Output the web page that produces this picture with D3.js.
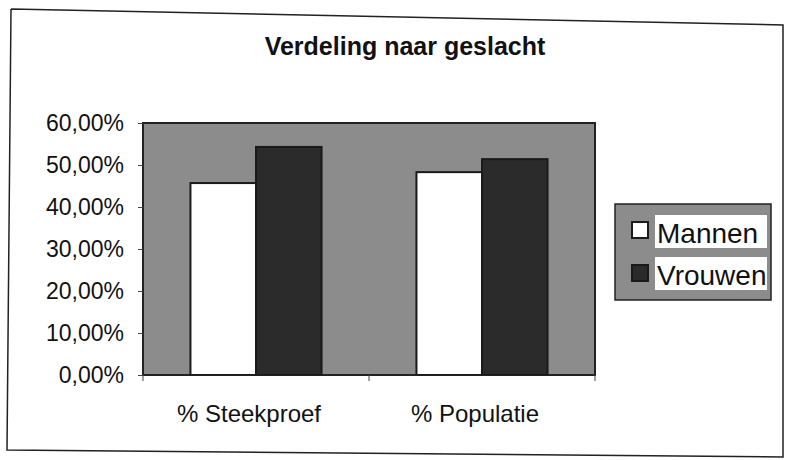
<!DOCTYPE html>
<html>
<head>
<meta charset="utf-8">
<script src="https://cdn.jsdelivr.net/npm/d3@7"></script>
<style>
  html, body { margin: 0; padding: 0; background: #fff; }
  svg { display: block; font-family: "Liberation Sans", Arial, sans-serif; }
</style>
</head>
<body>
<svg id="chart" width="785" height="460"></svg>
<script>
const title = "Verdeling naar geslacht";
const categories = ["% Steekproef", "% Populatie"];
const seriesNames = ["Mannen", "Vrouwen"];
const mannen = [45.7, 48.3];
const vrouwen = [54.3, 51.4];
const yTicks = [0, 10, 20, 30, 40, 50, 60];

const seriesValues = [mannen, vrouwen];
const seriesFill = ["#ffffff", "#2b2b2b"];

const svg = d3.select("#chart");
const plot = { left: 143, top: 123, right: 595, bottom: 375 };

// outer frame (slightly skewed like the scan)
svg.append("path")
  .attr("d", d3.line()([[11, 9], [783, 25], [783, 457], [7, 450], [11, 9]]))
  .attr("fill", "none").attr("stroke", "#222").attr("stroke-width", 1.5);

// title
svg.append("text")
  .attr("x", 405).attr("y", 55)
  .attr("text-anchor", "middle")
  .attr("font-size", 25).attr("font-weight", "bold")
  .attr("fill", "#111")
  .text(title);

const x0 = d3.scaleBand().domain(categories)
  .range([plot.left, plot.right]).paddingInner(0.42).paddingOuter(0.21);
const x1 = d3.scaleBand().domain(seriesNames).range([0, x0.bandwidth()]).padding(0);
const y = d3.scaleLinear().domain([0, 60]).range([plot.bottom, plot.top]);

// plot area background
svg.append("rect")
  .attr("x", plot.left).attr("y", plot.top)
  .attr("width", plot.right - plot.left).attr("height", plot.bottom - plot.top)
  .attr("fill", "#8c8c8c").attr("stroke", "#222").attr("stroke-width", 2);

// bars
const rows = [];
categories.forEach((c, i) => seriesNames.forEach((s, j) => rows.push({ c, s, v: seriesValues[j][i], j })));
svg.append("g").selectAll("rect").data(rows).join("rect")
  .attr("x", d => x0(d.c) + x1(d.s))
  .attr("y", d => y(d.v))
  .attr("width", x1.bandwidth())
  .attr("height", d => y(0) - y(d.v))
  .attr("fill", d => seriesFill[d.j])
  .attr("stroke", "#1a1a1a").attr("stroke-width", 2);

// y axis
const yAxis = d3.axisLeft(y).tickValues(yTicks).tickSize(5).tickPadding(14)
  .tickFormat(d => d3.format(".2f")(d).replace(".", ",") + "%");
const gy = svg.append("g").attr("transform", `translate(${plot.left},0)`).call(yAxis);
gy.select(".domain").attr("stroke", "#222");
gy.selectAll("line").attr("stroke", "#444");
gy.selectAll("text").attr("font-size", 23).attr("fill", "#111")
  .attr("font-family", "Liberation Sans, Arial, sans-serif");

// x axis
const xAxis = d3.axisBottom(x0).tickSize(0).tickPadding(30);
const gx = svg.append("g").attr("transform", `translate(0,${plot.bottom})`).call(xAxis);
gx.select(".domain").attr("stroke", "#222");
gx.selectAll("text").attr("font-size", 24).attr("fill", "#111")
  .attr("dx", -7)
  .attr("font-family", "Liberation Sans, Arial, sans-serif");
// category separator ticks
const sepX = [plot.left, (x0(categories[0]) + x0.bandwidth() + x0(categories[1])) / 2, plot.right];
gx.selectAll("line.sep").data(sepX).join("line").attr("class", "sep")
  .attr("x1", d => d).attr("x2", d => d).attr("y1", 0).attr("y2", 6)
  .attr("stroke", "#444");

// legend
const lg = svg.append("g");
lg.append("rect").attr("x", 615).attr("y", 204).attr("width", 156).attr("height", 96)
  .attr("fill", "#8c8c8c").attr("stroke", "#222").attr("stroke-width", 1.5);
const legendRows = [
  { name: seriesNames[0], fill: seriesFill[0], y: 215, sy: 222 },
  { name: seriesNames[1], fill: seriesFill[1], y: 257, sy: 265 }
];
legendRows.forEach(r => {
  lg.append("rect").attr("x", 632).attr("y", r.sy).attr("width", 16).attr("height", 16)
    .attr("fill", r.fill).attr("stroke", "#1a1a1a").attr("stroke-width", 2);
  lg.append("rect").attr("x", 655).attr("y", r.y).attr("width", 112).attr("height", 33)
    .attr("fill", "#fff");
  lg.append("text").attr("x", 657).attr("y", r.y + 28)
    .attr("font-size", 28).attr("fill", "#111").text(r.name);
});
</script>
</body>
</html>
